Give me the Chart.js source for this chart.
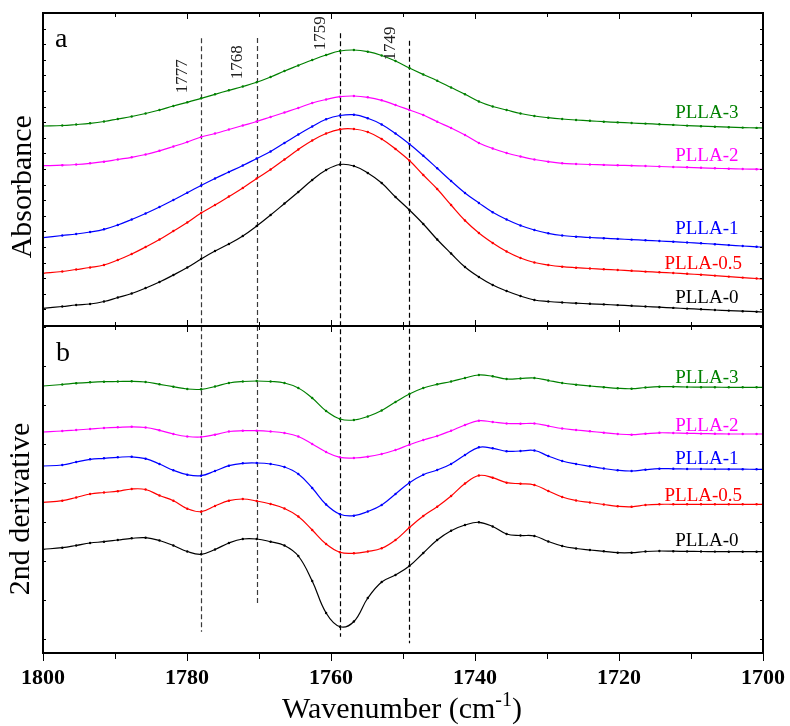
<!DOCTYPE html>
<html>
<head>
<meta charset="utf-8">
<script src="https://cdn.jsdelivr.net/npm/chart.js@4"></script>
<style>
  html, body { margin: 0; padding: 0; background: #fff; }
  #wrap { width: 790px; height: 726px; }
</style>
</head>
<body>
<div id="wrap"><canvas id="chart" width="790" height="726"></canvas></div>
<script>
// wavenumbers (cm-1) (about 1.93 cm-1 apart)
const wavenumbers = [1800, 1797.32, 1795.39, 1793.46, 1791.53, 1789.61, 1787.68, 1785.75, 1783.82, 1781.89,
  1779.96, 1778.04, 1776.11, 1774.18, 1772.25, 1770.32, 1768.39, 1766.46, 1764.54, 1762.61,
  1760.68, 1758.75, 1756.82, 1754.89, 1752.96, 1751.04, 1749.11, 1747.18, 1745.25, 1743.32,
  1741.39, 1739.46, 1737.54, 1735.61, 1733.68, 1731.75, 1729.82, 1727.89, 1725.96, 1724.04,
  1722.11, 1720.18, 1718.25, 1716.32, 1714.39, 1712.46, 1710.54, 1708.61, 1706.68, 1704.75,
  1702.82, 1700.89, 1700];

const sampleNames = ['PLLA-0', 'PLLA-0.5', 'PLLA-1', 'PLLA-2', 'PLLA-3'];

// panel a: absorbance (offset, arbitrary units)
const absPLLA0 = [17.7, 19.5, 21, 22, 24.5, 28.5, 32.5, 38, 44, 51, 58.5, 67, 75, 82, 90, 100, 111, 122.5, 134, 146,
  156, 161.5, 160, 153, 143, 129, 116, 102, 86.5, 72.5, 59, 49, 41, 35, 30, 26, 24.5, 23.5, 22.8, 22.2,
  21.6, 20.9, 20.2, 19.5, 18.8, 18.1, 17.4, 16.7, 16, 15.4, 14.8, 14.3, 14];
const absPLLA05 = [52.7, 54.5, 56.5, 58.5, 61, 66, 72, 79, 86.5, 95, 103.5, 113, 121, 129.5, 138, 147.5, 156.5, 166.5, 176.5, 185.5,
  192.5, 196.7, 197, 194, 187, 177, 165.5, 151, 137, 121, 105.5, 93, 83, 74.5, 68, 63.5, 61, 59.3, 58.3, 57.5,
  56.7, 56, 55.2, 54.4, 53.7, 53, 52.2, 51.3, 50.4, 49.4, 48.4, 47.5, 47];
const absPLLA1 = [88.3, 90.5, 92, 94, 96.7, 101, 106.5, 112.5, 119, 126, 133.3, 140.5, 147.5, 154, 160.5, 167.5, 174.5, 183, 191.5, 199.5,
  206.7, 210.5, 211.3, 207.7, 201.5, 192.5, 182, 170.2, 157.7, 145, 133, 123, 113.7, 106.5, 100.5, 96, 92.7, 90.5, 89.3, 88.5,
  87.8, 87.1, 86.4, 85.7, 85, 84.3, 83.5, 82.7, 81.8, 80.9, 80, 79.2, 78.8];
const absPLLA2 = [160.3, 160.8, 161.5, 162.7, 164.3, 166.5, 168.7, 171.5, 175.2, 179.5, 184, 189, 192.5, 196.5, 200.5, 204.5, 209, 213.5, 218, 223,
  226.5, 229.3, 230, 228.7, 225.7, 221, 216, 211, 204.3, 198, 191, 183, 177.5, 173, 169.5, 166.5, 164.3, 162.7, 162, 161.5,
  161.1, 160.7, 160.4, 160, 159.5, 159, 158.7, 158.2, 157.7, 157.3, 157, 156.8, 156.7];
const absPLLA3 = [200, 200.5, 201.5, 202.7, 204.5, 207, 209.5, 212.5, 216, 220, 223.7, 227.7, 231.7, 235.7, 239.5, 243.7, 249, 255, 260.5, 266,
  271, 275, 276, 274.3, 270.5, 265, 258, 251.5, 245.3, 238.5, 231.7, 224.5, 219.5, 216, 212.5, 210, 208.3, 207, 206, 205.2,
  204.3, 203.6, 203, 202.4, 201.7, 201.1, 200.4, 199.8, 199.3, 198.8, 198.4, 198.1, 198];

// panel b: 2nd derivative (offset, arbitrary units)
const derPLLA0 = [103.7, 105.3, 107.5, 110, 111.3, 113, 114.7, 115.3, 112.5, 107.5, 101.5, 98.7, 103.5, 110, 114, 114, 111.3, 107.5, 97, 72,
  40, 26.3, 31.5, 55, 71, 78, 87, 100, 113, 122.3, 128, 130.7, 126.5, 119, 117.5, 117, 111.5, 107, 104.5, 103,
  101.7, 100.3, 100.3, 101.5, 102, 101.8, 101.6, 101.5, 101.4, 101.3, 101.3, 101.3, 101.3];
const derPLLA05 = [150.7, 152.3, 155.5, 159, 160.5, 161.8, 164, 163.5, 157.5, 152.3, 144.3, 141.3, 147, 152.3, 154, 152, 149, 144.5, 136.5, 123,
  109, 100.7, 99.7, 101.5, 104.7, 113, 125.5, 137, 146.3, 157, 169.5, 177.5, 175.3, 170.3, 169.3, 168, 162, 156, 152.5, 150.5,
  148.5, 146.7, 146.2, 148, 148.7, 148.7, 148.7, 148.7, 148.7, 148.7, 148.7, 148.7, 148.7];
const derPLLA1 = [187, 188, 191, 193.7, 194.7, 195.7, 196.2, 194.3, 189, 182.7, 178.3, 177.3, 182, 187.3, 189.7, 190, 189, 186, 179, 165,
  148.5, 138.7, 137.3, 141.5, 148, 159, 170.3, 178.3, 183, 189, 198, 205.7, 204.7, 201.7, 202, 202.5, 197, 192, 189, 186.7,
  184.5, 182.7, 182, 183.3, 184.3, 184.2, 184, 184, 183.9, 183.8, 183.8, 183.7, 183.7];
const derPLLA2 = [221, 222, 223, 224, 225, 225.7, 226.2, 225.5, 222.7, 219, 216.5, 216, 218.3, 221.5, 222.3, 222.3, 221.5, 220, 216.5, 209,
  201, 195.7, 195, 196.3, 199, 203, 208.3, 213, 217, 222.3, 228, 232.3, 231, 229.5, 229.3, 229.5, 227, 224.5, 223, 221.7,
  220.3, 219, 218.3, 219.3, 220.2, 220, 219.7, 219.4, 219.2, 219, 219, 219, 219];
const derPLLA3 = [267, 268.5, 269.8, 270.7, 271.3, 271.5, 271.7, 271, 268.7, 266.3, 264, 263.7, 266.5, 270, 271.5, 272, 271.5, 270, 265, 255,
  242, 234, 233, 236.5, 242.5, 251, 259, 265, 268.7, 271.5, 275, 278, 276.7, 274, 274.5, 275, 272.5, 270, 268.3, 267,
  265.8, 264.7, 264.3, 265.5, 266.3, 266.3, 266, 265.8, 265.8, 265.7, 265.7, 265.7, 265.7];

// band positions marked with dashed lines, and their labels
const bandWavenumbers = [1778.04, 1770.32, 1758.75, 1749.11];
const bandLabels = ['1777', '1768', '1759', '1749'];

const xTicks = [1800, 1780, 1760, 1740, 1720, 1700];

const absorbance = [absPLLA0, absPLLA05, absPLLA1, absPLLA2, absPLLA3];
const derivative = [derPLLA0, derPLLA05, derPLLA1, derPLLA2, derPLLA3];

const colors = ['#000000', '#ff0000', '#0000ff', '#ff00ff', '#008000'];
const FONT = "'Liberation Serif', 'Times New Roman', serif";

// where the sample names sit (x in cm-1, y in each panel's units)
const nameX = [1703.4, 1702.9, 1703.4, 1703.4, 1703.4];
const nameYa = [27.7, 62, 96.7, 170, 213.3];
const nameYb = [112.3, 157, 193.7, 227, 274.7];

// dashed line ends (top in panel a units, bottom in panel b units) and label heights
const bandTop = [287.7, 288, 292.7, 285.3];
const bandBottom = [21.3, 48, 16.3, 9.7];
const bandLabelY = [249.7, 263.7, 292.7, 282.5];

const toXY = (vals) => vals.map((v, i) => ({ x: wavenumbers[i], y: v }));

const datasets = [];
sampleNames.forEach((name, i) => {
  const common = {
    borderColor: colors[i],
    backgroundColor: colors[i],
    borderWidth: 1.2,
    pointRadius: 1.2,
    pointBorderWidth: 0,
    tension: 0.4,
    fill: false
  };
  datasets.push(Object.assign({ label: name + ' (a)', data: toXY(absorbance[i]), yAxisID: 'yA' }, common));
  datasets.push(Object.assign({ label: name + ' (b)', data: toXY(derivative[i]), yAxisID: 'yB' }, common));
});

const decor = {
  id: 'decor',
  beforeDatasetsDraw(chart) {
    const { ctx, scales: { x, yA, yB } } = chart;
    ctx.save();
    ctx.setLineDash([5, 3]);
    ctx.lineWidth = 1.2;
    bandWavenumbers.forEach((wn, i) => {
      const px = Math.round(x.getPixelForValue(wn)) + 0.5;
      ctx.strokeStyle = i < 2 ? '#3a3a3a' : '#000';
      ctx.beginPath();
      ctx.moveTo(px, yA.getPixelForValue(bandTop[i]));
      ctx.lineTo(px, yB.getPixelForValue(bandBottom[i]));
      ctx.stroke();
    });
    ctx.restore();
  },
  afterDraw(chart) {
    const { ctx, chartArea, scales: { x, yA, yB } } = chart;
    const left = chartArea.left, right = chartArea.right;
    ctx.save();

    // ticks
    ctx.strokeStyle = '#000';
    ctx.lineWidth = 1;
    ctx.beginPath();
    for (let wn = 1700; wn <= 1800; wn += 10) {
      const px = Math.round(x.getPixelForValue(wn)) + 0.5;
      const major = wn % 20 === 0;
      const len = major ? 6 : 4;
      ctx.moveTo(px, yA.top); ctx.lineTo(px, yA.top + len);
      ctx.moveTo(px, yA.bottom); ctx.lineTo(px, yA.bottom - len);
      ctx.moveTo(px, yB.top); ctx.lineTo(px, yB.top + len);
      ctx.moveTo(px, yB.bottom); ctx.lineTo(px, yB.bottom + len + 2);
    }
    for (let v = 16.7; v < 313; v += 15.6) {
      const py = Math.round(yA.getPixelForValue(v)) + 0.5;
      ctx.moveTo(left, py); ctx.lineTo(left + 3, py);
      ctx.moveTo(right, py); ctx.lineTo(right - 3, py);
    }
    for (let v = 13.7; v < 327; v += 39) {
      const py = Math.round(yB.getPixelForValue(v)) + 0.5;
      ctx.moveTo(left, py); ctx.lineTo(left + 3, py);
      ctx.moveTo(right, py); ctx.lineTo(right - 3, py);
    }
    ctx.stroke();

    // frames
    ctx.lineWidth = 2;
    ctx.strokeRect(left, yA.top, right - left, yB.bottom - yA.top);
    ctx.beginPath();
    ctx.moveTo(left, yA.bottom);
    ctx.lineTo(right, yA.bottom);
    ctx.stroke();

    // panel letters
    ctx.fillStyle = '#000';
    ctx.font = '28px ' + FONT;
    ctx.textAlign = 'left';
    ctx.textBaseline = 'alphabetic';
    ctx.fillText('a', left + 12, yA.top + 34);
    ctx.fillText('b', left + 13, yB.top + 35);

    // sample names
    ctx.font = '19px ' + FONT;
    ctx.textAlign = 'right';
    ctx.textBaseline = 'middle';
    sampleNames.forEach((name, i) => {
      ctx.fillStyle = colors[i];
      ctx.fillText(name, x.getPixelForValue(nameX[i]), yA.getPixelForValue(nameYa[i]));
      ctx.fillText(name, x.getPixelForValue(nameX[i]), yB.getPixelForValue(nameYb[i]));
    });

    // band labels, rotated
    ctx.fillStyle = '#222';
    ctx.font = '17px ' + FONT;
    ctx.textAlign = 'center';
    bandLabels.forEach((lab, i) => {
      ctx.save();
      ctx.translate(x.getPixelForValue(bandWavenumbers[i]) - 19, yA.getPixelForValue(bandLabelY[i]));
      ctx.rotate(-Math.PI / 2);
      ctx.fillText(lab, 0, 0);
      ctx.restore();
    });

    // y titles
    ctx.fillStyle = '#000';
    ctx.font = '30px ' + FONT;
    ctx.save();
    ctx.translate(23, yA.getPixelForValue(139.3));
    ctx.rotate(-Math.PI / 2);
    ctx.fillText('Absorbance', 0, 0);
    ctx.restore();
    ctx.save();
    ctx.translate(21, yB.getPixelForValue(144));
    ctx.rotate(-Math.PI / 2);
    ctx.fillText('2nd derivative', 0, 0);
    ctx.restore();

    // x title with superscript
    const big = '30px ' + FONT, small = '20px ' + FONT;
    ctx.textBaseline = 'alphabetic';
    ctx.textAlign = 'left';
    ctx.font = big;
    const t1 = 'Wavenumber (cm', t3 = ')';
    const w1 = ctx.measureText(t1).width, w3 = ctx.measureText(t3).width;
    ctx.font = small;
    const w2 = ctx.measureText('-1').width;
    let sx = 402 - (w1 + w2 + w3) / 2;
    const base = 718;
    ctx.font = big;
    ctx.fillText(t1, sx, base);
    ctx.font = small;
    ctx.fillText('-1', sx + w1, base - 12);
    ctx.font = big;
    ctx.fillText(t3, sx + w1 + w2, base);

    ctx.restore();
  }
};

new Chart(document.getElementById('chart'), {
  type: 'line',
  data: { datasets: datasets },
  options: {
    responsive: false,
    animation: false,
    layout: { padding: { left: 43, right: 27, top: 13, bottom: 0 } },
    plugins: { legend: { display: false }, tooltip: { enabled: false } },
    scales: {
      x: {
        type: 'linear',
        reverse: true,
        min: 1700,
        max: 1800,
        position: 'bottom',
        grid: { display: false },
        border: { display: false },
        afterBuildTicks: (s) => { s.ticks = xTicks.map(v => ({ value: v })); },
        ticks: {
          color: '#000',
          padding: 4,
          maxRotation: 0,
          autoSkip: false,
          font: { family: FONT, size: 22, weight: 'bold' },
          callback: (v) => String(v)
        },
        afterFit: (s) => {
          s.height = 73;
          s.paddingLeft = 0;
          s.paddingRight = 0;
        }
      },
      yB: {
        type: 'linear',
        position: 'left',
        stack: 'panels',
        stackWeight: 327,
        min: 0,
        max: 327,
        ticks: { display: false },
        grid: { display: false },
        border: { display: false },
        afterFit: (s) => { s.width = 0; }
      },
      yA: {
        type: 'linear',
        position: 'left',
        stack: 'panels',
        stackWeight: 313,
        min: 0,
        max: 313,
        ticks: { display: false },
        grid: { display: false },
        border: { display: false },
        afterFit: (s) => { s.width = 0; }
      }
    }
  },
  plugins: [decor]
});
</script>
</body>
</html>
